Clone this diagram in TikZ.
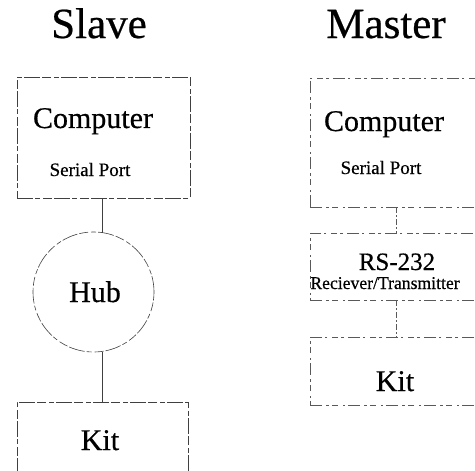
\documentclass[tikz,border=0pt]{standalone}
\usepackage{fontspec}
\setmainfont{Liberation Serif}[FakeBold=0.5]
\usetikzlibrary{shapes.geometric}
\begin{document}
\begin{tikzpicture}[x=1pt,y=-1pt,
  outline/.style={draw=black!75, line width=0.6pt,
    dash pattern=on 16pt off 2pt on 5pt off 3pt on 9pt off 2pt},
  faint/.style={draw=black!65, line width=0.6pt,
    dash pattern=on 12pt off 4pt on 3pt off 3pt on 6pt off 5pt on 2pt off 3pt},
  block/.style={outline, rectangle, inner sep=0pt},
  mblock/.style={faint, rectangle, inner sep=0pt},
  wire/.style={draw=black!75, line width=0.6pt},
  title/.style={font=\fontsize{43}{43}\selectfont, inner sep=0pt, anchor=base},
  big/.style={font=\fontsize{30}{30}\selectfont, inner sep=0pt, anchor=base},
  small/.style={font=\fontsize{19}{19}\selectfont, inner sep=0pt, anchor=base}]
\useasboundingbox (0,0) rectangle (475,471);
\clip (0,0) rectangle (475,471);

% column titles
\node[title] (tslave) at (99,38) {Slave};
\node[title] (tmaster) at (386,38) {Master};

% slave side
\node[block, minimum width=173pt, minimum height=121pt] (scomp) at (103.5,137.5) {};
\node[big] (scompt) at (93,128) {Computer};
\node[small] (sport) at (90,176) {Serial Port};
\node[outline, ellipse, minimum width=121pt, minimum height=120pt, inner sep=0pt] (hub) at (93.5,292) {};
\node[big] (hubt) at (95,302) {Hub};
\node[block, minimum width=171pt, minimum height=120pt] (skit) at (102.5,462) {};
\node[big] (skitt) at (100,450) {Kit};
\coordinate (sc1) at (102,232.5);
\coordinate (sc2) at (102,351.5);
\draw[wire] (scomp.south -| sc1) -- (sc1);
\draw[wire] (sc2) -- (skit.north -| sc2);

% master side
\node[mblock, minimum width=200pt, minimum height=129pt] (mcomp) at (410,142.5) {};
\node[big] (mcompt) at (384,131) {Computer};
\node[small] (mport) at (381,174) {Serial Port};
\node[mblock, minimum width=200pt, minimum height=67pt] (rs) at (410,266.5) {};
\node[font=\fontsize{25}{25}\selectfont, inner sep=0pt, anchor=base] (rst) at (397,270) {RS-232};
\node[font=\fontsize{18}{18}\selectfont, inner sep=0pt, anchor=base, xscale=0.98] (rxt) at (385,289) {Reciever/Transmitter};
\node[mblock, minimum width=200pt, minimum height=68pt] (mkit) at (410,371) {};
\node[big] (mkitt) at (395,391) {Kit};
\coordinate (mx) at (396,0);
\draw[faint, dash pattern=on 6pt off 2pt on 2pt off 2pt] (mcomp.south -| mx) -- (rs.north -| mx);
\draw[faint, dash pattern=on 6pt off 2pt on 2pt off 2pt] (rs.south -| mx) -- (mkit.north -| mx);
\end{tikzpicture}
\end{document}
